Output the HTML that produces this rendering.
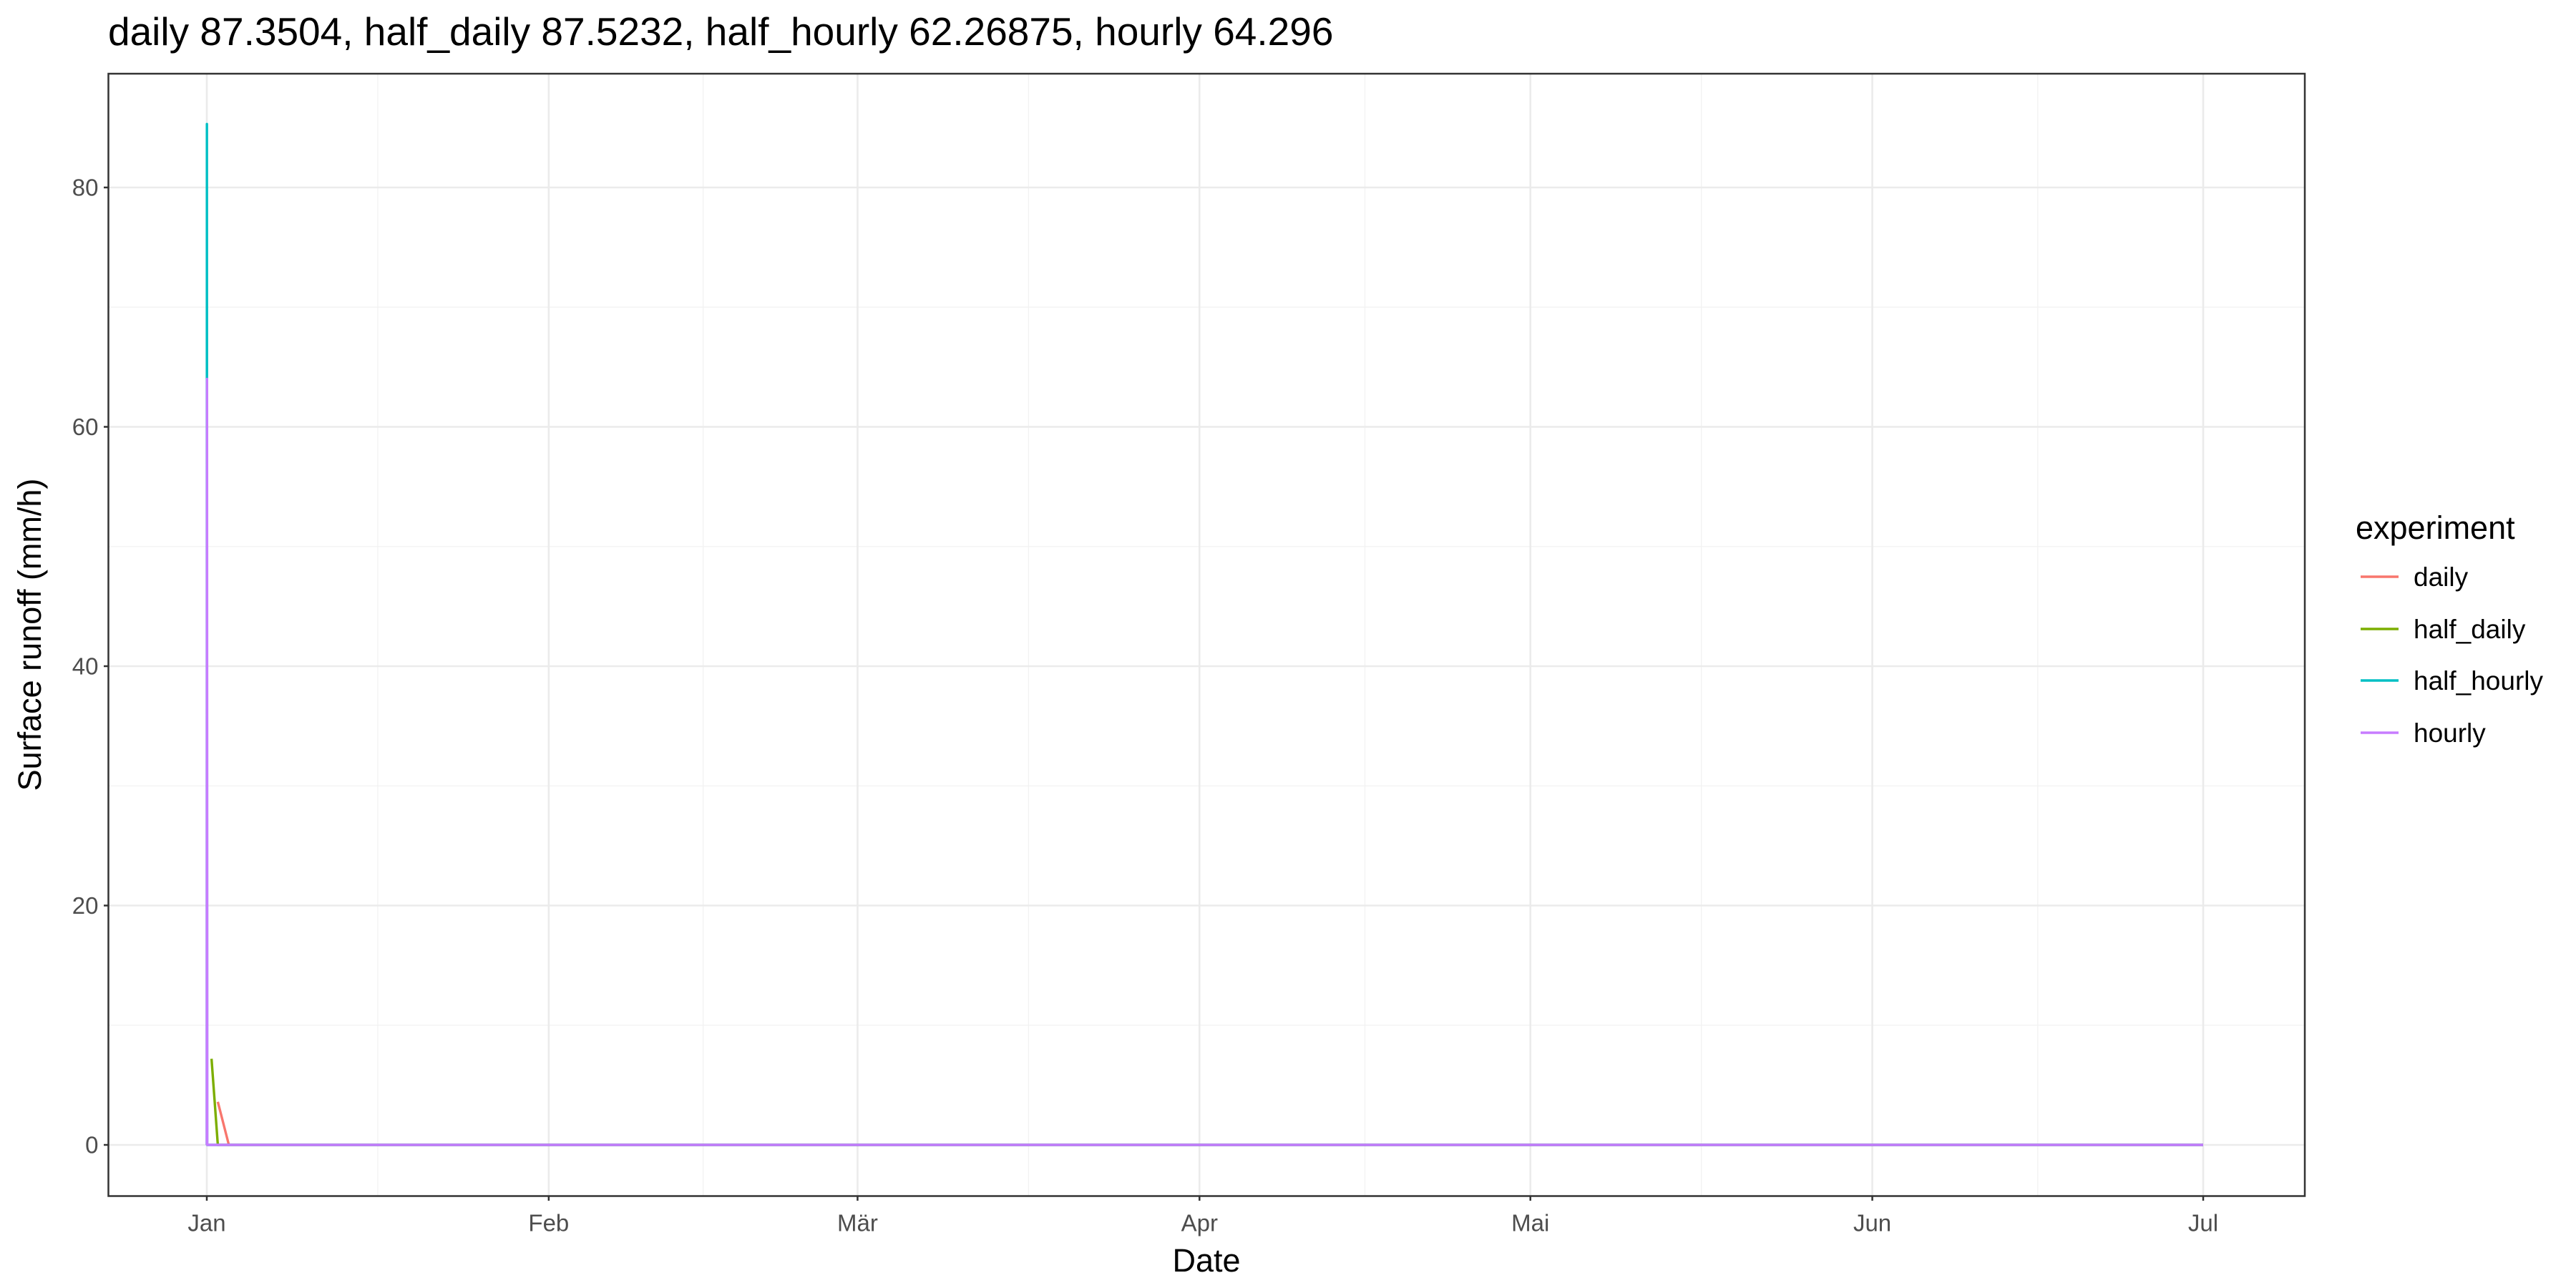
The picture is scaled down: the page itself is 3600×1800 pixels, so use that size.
<!DOCTYPE html>
<html><head><meta charset="utf-8"><style>
html,body{margin:0;padding:0;background:#fff;}
svg{display:block;font-family:"Liberation Sans",sans-serif;}
</style></head><body>
<svg id="chart" width="3600" height="1800" viewBox="0 0 3600 1800" xmlns="http://www.w3.org/2000/svg">
<rect width="3600" height="1800" fill="#fff"/>
<text x="151" y="63" font-size="55" fill="#000">daily 87.3504, half_daily 87.5232, half_hourly 62.26875, hourly 64.296</text>
<g id="grid"></g>
<g id="series"></g>
<rect x="151.5" y="103" width="3069.5" height="1568.5" fill="none" stroke="#333" stroke-width="2.5"/>
<g id="axes"></g>
<text x="1686" y="1777" font-size="45" text-anchor="middle" fill="#000">Date</text>
<text transform="translate(57,887) rotate(-90)" font-size="45" text-anchor="middle" fill="#000">Surface runoff (mm/h)</text>
<g id="legend">
<text x="3292" y="753" font-size="45" fill="#000">experiment</text>
</g>
</svg>
<script>
const NS="http://www.w3.org/2000/svg";
const monthLabels=["Jan","Feb","Mär","Apr","Mai","Jun","Jul"];
const monthDays=[0,31,59,90,120,151,181];
const yTicks=[0,20,40,60,80];
const seriesNames=["daily","half_daily","half_hourly","hourly"];
const seriesColors=["#F8766D","#7CAE00","#00BFC4","#C77CFF"];
const dailyDays=[1,2,181];
const dailyVals=[3.6,0,0];
const halfDailyDays=[0.43,1,181];
const halfDailyVals=[7.2,0,0];
const halfHourlyDays=[0,0.01,0.02,0.03,181];
const halfHourlyVals=[0,85.3,39,0,0];
const hourlyDays=[0,0.02,0.04,181];
const hourlyVals=[0,64,0,0];

const L=151.5,R=3221,T=103,B=1671.5;
const x0=289,x1=3079;
const xs=d=>x0+d*(x1-x0)/181;
const y0px=1600,y80px=262;
const ys=v=>y0px+(y80px-y0px)*v/80;

function mk(tag,attrs,parent){const e=document.createElementNS(NS,tag);for(const k in attrs)e.setAttribute(k,attrs[k]);parent.appendChild(e);return e;}
const grid=document.getElementById('grid');
mk('rect',{x:L,y:T,width:R-L,height:B-T,fill:'#fff'},grid);
for(let i=0;i<yTicks.length-1;i++){const v=(yTicks[i]+yTicks[i+1])/2;
 const l=mk('line',{x1:L,x2:R,y1:ys(v),y2:ys(v),stroke:'#f2f2f2','stroke-width':1.3},grid);
 
 }
for(let i=0;i<monthDays.length-1;i++){const d=(monthDays[i]+monthDays[i+1])/2;
 const l=mk('line',{x1:xs(d),x2:xs(d),y1:T,y2:B,stroke:'#f2f2f2','stroke-width':1.3},grid);
 
 }
const axes=document.getElementById('axes');
yTicks.forEach(v=>{
 const l=mk('line',{x1:L,x2:R,y1:ys(v),y2:ys(v),stroke:'#ebebeb','stroke-width':2.6},grid);
 
 
 const t=mk('line',{x1:L-6.5,x2:L,y1:ys(v),y2:ys(v),stroke:'#333','stroke-width':2.5},axes);
 
 
 const tx=mk('text',{x:L-14,y:ys(v)+11.5,'font-size':33,'text-anchor':'end',fill:'#4d4d4d'},axes);
 tx.textContent=v;
 
 
});
monthDays.forEach((d,i)=>{
 const l=mk('line',{x1:xs(d),x2:xs(d),y1:T,y2:B,stroke:'#ebebeb','stroke-width':2.6},grid);
 
 
 const t=mk('line',{x1:xs(d),x2:xs(d),y1:B,y2:B+6.5,stroke:'#333','stroke-width':2.5},axes);
 
 
 const tx=mk('text',{x:xs(d),y:B+49,'font-size':33,'text-anchor':'middle',fill:'#4d4d4d'},axes);
 tx.textContent=monthLabels[i];
 
 
});
const ser=document.getElementById('series');
const allDays=[dailyDays,halfDailyDays,halfHourlyDays,hourlyDays];
const allVals=[dailyVals,halfDailyVals,halfHourlyVals,hourlyVals];
for(let s=0;s<4;s++){
 const pts=allDays[s].map((d,i)=>xs(d).toFixed(2)+','+ys(allVals[s][i]).toFixed(2)).join(' ');
 const p=mk('polyline',{points:pts,fill:'none',stroke:seriesColors[s],'stroke-width':3.4,'stroke-linejoin':'round'},ser);
 
 
}
const leg=document.getElementById('legend');
const legY=[806,879,951,1024];
for(let s=0;s<4;s++){
 const l=mk('line',{x1:3299,x2:3352,y1:legY[s],y2:legY[s],stroke:seriesColors[s],'stroke-width':3.4},leg);
 
 
 const t=mk('text',{x:3373,y:legY[s]+13,'font-size':37,fill:'#000'},leg);
 t.textContent=seriesNames[s];
 
 
}
</script>
</body></html>
